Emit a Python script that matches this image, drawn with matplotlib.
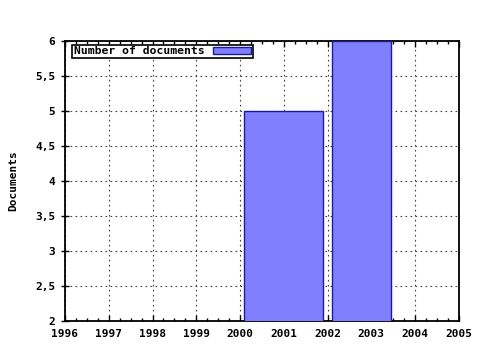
import numpy as np
import matplotlib.pyplot as plt
from matplotlib.ticker import MultipleLocator, FuncFormatter

# data
bar_left = [2000.1, 2002.1]
bar_right = [2001.9, 2003.45]
documents = [5, 6]
year_ticks = list(range(1996, 2006))
y_ticks = [2, 2.5, 3, 3.5, 4, 4.5, 5, 5.5, 6]

plt.rcParams['font.family'] = 'DejaVu Sans Mono'
plt.rcParams['font.weight'] = 'bold'

fig = plt.figure(figsize=(4.8, 3.5), dpi=100)
ax = fig.add_axes([0.1354, 0.083, 0.8206, 0.8])

left = np.array(bar_left)
width = np.array(bar_right) - left
ax.bar(left, documents, width=width, align='edge', color='#8080ff',
       edgecolor='#1a1aa0', linewidth=1.0, label='Number of documents', zorder=3)

ax.set_xlim(1996, 2005)
ax.set_ylim(2, 6)
ax.set_xticks(year_ticks)
ax.set_yticks(y_ticks)
ax.xaxis.set_minor_locator(MultipleLocator(0.25))
ax.yaxis.set_major_formatter(FuncFormatter(lambda v, p: ('%g' % v).replace('.', ',')))

ax.grid(True, which='major', color='#444444', linestyle=(0, (1.5, 3)), linewidth=0.8, zorder=1)

for s in ax.spines.values():
    s.set_linewidth(1.3)
    s.set_color('black')

ax.tick_params(axis='x', which='major', direction='in', length=4, width=1,
               top=True, labelsize=8, pad=6)
ax.tick_params(axis='x', which='minor', direction='in', length=2, width=1, top=True)
ax.tick_params(axis='y', which='major', direction='inout', length=6, width=1,
               labelsize=8, pad=4)

ax.set_ylabel('Documents', fontsize=8, fontweight='bold', labelpad=12)

leg = ax.legend(loc='upper left', bbox_to_anchor=(0.012, 0.995), frameon=True, fancybox=False,
                markerfirst=False, handlelength=3.3, handleheight=0.6, fontsize=8.2,
                borderpad=0.15, borderaxespad=0.2, handletextpad=0.8)
leg.get_frame().set_edgecolor('black')
leg.get_frame().set_linewidth(1.2)
leg.get_frame().set_alpha(1)

fig.savefig('out.png', dpi=100)
